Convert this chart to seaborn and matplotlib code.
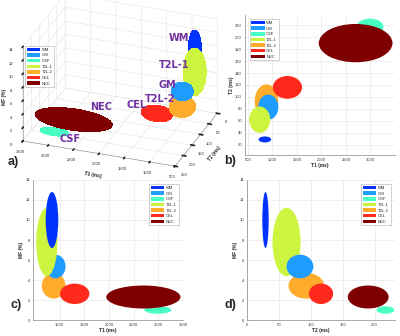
import numpy as np
import pandas as pd
import matplotlib
matplotlib.use("Agg")
import matplotlib.pyplot as plt
from matplotlib.patches import Ellipse, Patch
from mpl_toolkits.mplot3d import proj3d
import seaborn as sns

# tissue classes (mean and half-width of each cluster)
tissues = ["WM", "GM", "CSF", "T2L-1", "T2L-2", "CEL", "NEC"]
colors = ["#0033ff", "#1e9cff", "#48ffc4", "#cdf53f", "#ffab2b", "#ff2a1c", "#7f0000"]

t1_mean = [845, 915, 2990, 740, 878, 1305, 2697]
t1_half = [128, 205, 275, 215, 240, 298, 752]
t2_mean = [29, 83, 217, 62, 93, 116, 190]
t2_half = [5, 21, 14, 22, 28, 19, 32]
mf_mean = [10.0, 5.35, 1.0, 7.8, 3.42, 2.62, 2.3]
mf_half = [2.8, 1.18, 0.37, 3.42, 1.28, 1.02, 1.15]

t1_ticks_b = [500, 1000, 1500, 2000, 2500, 3000]
t1_ticks_c = [1000, 1500, 2000, 2500, 3000, 3500]
t1_ticks_a = [500, 1000, 1500, 2000, 2500, 3000, 3500]
t2_ticks_b = [20, 40, 60, 80, 100, 120, 140, 160, 180, 200, 220]
t2_ticks_a = [0, 50, 100, 150, 200, 250]
t2_ticks_d = [0, 50, 100, 150, 200]
mf_ticks = [0, 2, 4, 6, 8, 10, 12, 14]

df = pd.DataFrame({"tissue": tissues, "color": colors,
                   "t1": t1_mean, "t1h": t1_half,
                   "t2": t2_mean, "t2h": t2_half,
                   "mf": mf_mean, "mfh": mf_half}).set_index("tissue")

sns.set_theme(style="whitegrid")
plt.rcParams["font.family"] = ["Liberation Sans", "DejaVu Sans"]
plt.rcParams["grid.color"] = "#e4e4e4"
plt.rcParams["grid.linewidth"] = 0.4

fig = plt.figure(figsize=(4, 3.36), dpi=100)
fig.patch.set_facecolor("white")

handles = [Patch(facecolor=c, edgecolor="none", label=t) for t, c in zip(tissues, colors)]
purple = "#7030a0"


def add_legend(ax, loc, anchor, transform=None):
    kw = {} if transform is None else {"bbox_transform": transform}
    leg = ax.legend(handles=handles, loc=loc, bbox_to_anchor=anchor, fontsize=3,
                    frameon=True, fancybox=False, handlelength=3.2, handleheight=0.9,
                    handletextpad=0.4, labelspacing=0.35, borderpad=0.4,
                    borderaxespad=0, **kw)
    leg.get_frame().set_edgecolor("#999999")
    leg.get_frame().set_linewidth(0.4)
    return leg


def ellipse_panel(ax, xcol, ycol, order, xlim, ylim, xticks, yticks, xlabel, ylabel):
    for i, t in enumerate(order):
        r = df.loc[t]
        ax.add_patch(Ellipse((r[xcol], r[ycol]), 2 * r[xcol + "h"], 2 * r[ycol + "h"],
                             facecolor=r["color"], edgecolor="none", zorder=3 + i))
    ax.set_xlim(xlim)
    ax.set_ylim(ylim)
    ax.set_xticks(xticks)
    ax.set_yticks(yticks)
    ax.tick_params(labelsize=3, length=1.2, width=0.4, pad=1, colors="#333333")
    ax.set_xlabel(xlabel, fontsize=3.5, fontweight="bold", labelpad=0.5)
    ax.set_ylabel(ylabel, fontsize=3.5, fontweight="bold", labelpad=1)
    sns.despine(ax=ax)
    for s in ["left", "bottom"]:
        ax.spines[s].set_color("#888888")
        ax.spines[s].set_linewidth(0.5)
    ax.grid(True)


# a) 3D ellipsoids (drawn first so panel b sits on top of its overhang)
axa = fig.add_axes([0.014, 0.421, 0.5575, 0.6637], projection="3d", computed_zorder=False)
axa.set_proj_type("ortho")
axa.view_init(elev=27, azim=110)
axa.set_box_aspect((1.53, 1.17, 1.0))
axa.patch.set_alpha(0)

u = np.linspace(0, 2 * np.pi, 40)
v = np.linspace(0, np.pi, 24)
for i, t in enumerate(["CSF", "NEC", "CEL", "WM", "T2L-1", "T2L-2", "GM"]):
    r = df.loc[t]
    X = r["t1"] + r["t1h"] * np.outer(np.cos(u), np.sin(v))
    Y = r["t2"] + r["t2h"] * np.outer(np.sin(u), np.sin(v))
    Z = r["mf"] + r["mfh"] * np.outer(np.ones_like(u), np.cos(v))
    axa.plot_surface(X, Y, Z, color=r["color"], shade=False, linewidth=0,
                     antialiased=False, rstride=1, cstride=1, zorder=2 + i)

axa.set_xlim(500, 3500)
axa.set_ylim(0, 250)
axa.set_zlim(0, 14)
axa.set_xticks(t1_ticks_a)
axa.set_yticks(t2_ticks_a)
axa.set_zticks(mf_ticks)
axa.tick_params(labelsize=3, pad=-3)
axa.zaxis.set_ticks_position("upper")
axa.zaxis.set_label_position("upper")
axa.set_xlabel("T1 (ms)", fontsize=3.5, fontweight="bold", labelpad=-9)
axa.set_ylabel("T2 (ms)", fontsize=3.5, fontweight="bold", labelpad=-11)
axa.set_zlabel("MF (%)", fontsize=3.5, fontweight="bold", labelpad=-13)
for a in [axa.xaxis, axa.yaxis, axa.zaxis]:
    a.set_pane_color((1, 1, 1, 1))
    a._axinfo["grid"]["color"] = "#e4e4e4"
    a._axinfo["grid"]["linewidth"] = 0.4
    a.line.set_color("#888888")
    a.line.set_linewidth(0.4)

# purple class labels, offset (points) from each cluster centre
label_offsets = {"WM": (-11.5, 8), "T2L-1": (-14.5, 5), "GM": (-11, 4.3),
                 "T2L-2": (-16, 5.8), "CEL": (-14.5, 5.8), "NEC": (19.5, 9.4),
                 "CSF": (11.5, -5)}
proj = axa.get_proj()
for t, off in label_offsets.items():
    r = df.loc[t]
    x2, y2, _ = proj3d.proj_transform(r["t1"], r["t2"], r["mf"], proj)
    axa.annotate(t, xy=(x2, y2), xytext=off, textcoords="offset points",
                 ha="center", va="center", fontsize=7, fontweight="bold",
                 color=purple, family=["Liberation Sans Narrow", "DejaVu Sans"],
                 zorder=20)

add_legend(axa, "upper left", (25 / 400, 1 - 46 / 336), fig.transFigure)

# b) T1 vs T2
axb = fig.add_axes([0.6125, 0.5387, 0.375, 0.4167])
ellipse_panel(axb, "t1", "t2", ["CSF", "NEC", "WM", "T2L-2", "CEL", "GM", "T2L-1"],
              (440, 3500), (3, 237), t1_ticks_b, t2_ticks_b, "T1 (ms)", "T2 (ms)")
add_legend(axb, "upper left", (0.03, 0.97))

# c) T1 vs MF
axc = fig.add_axes([0.0825, 0.0476, 0.375, 0.4167])
ellipse_panel(axc, "t1", "mf", ["CSF", "NEC", "T2L-2", "CEL", "GM", "T2L-1", "WM"],
              (460, 3500), (0, 14), t1_ticks_c, mf_ticks, "T1 (ms)", "MF (%)")
add_legend(axc, "upper right", (0.97, 0.97))

# d) T2 vs MF
axd = fig.add_axes([0.6175, 0.0476, 0.37, 0.4167])
ellipse_panel(axd, "t2", "mf", ["NEC", "CSF", "T2L-1", "T2L-2", "CEL", "GM", "WM"],
              (0, 232), (0, 14), t2_ticks_d, mf_ticks, "T2 (ms)", "MF (%)")
add_legend(axd, "upper right", (0.97, 0.97))

for txt, x, y in [("a)", 13 / 400, 1 - 162 / 336), ("b)", 230 / 400, 1 - 161 / 336),
                  ("c)", 16 / 400, 1 - 305 / 336), ("d)", 230 / 400, 1 - 305 / 336)]:
    fig.text(x, y, txt, fontsize=9, fontweight="bold", ha="center", va="center")

fig.savefig("out.png", dpi=100)
